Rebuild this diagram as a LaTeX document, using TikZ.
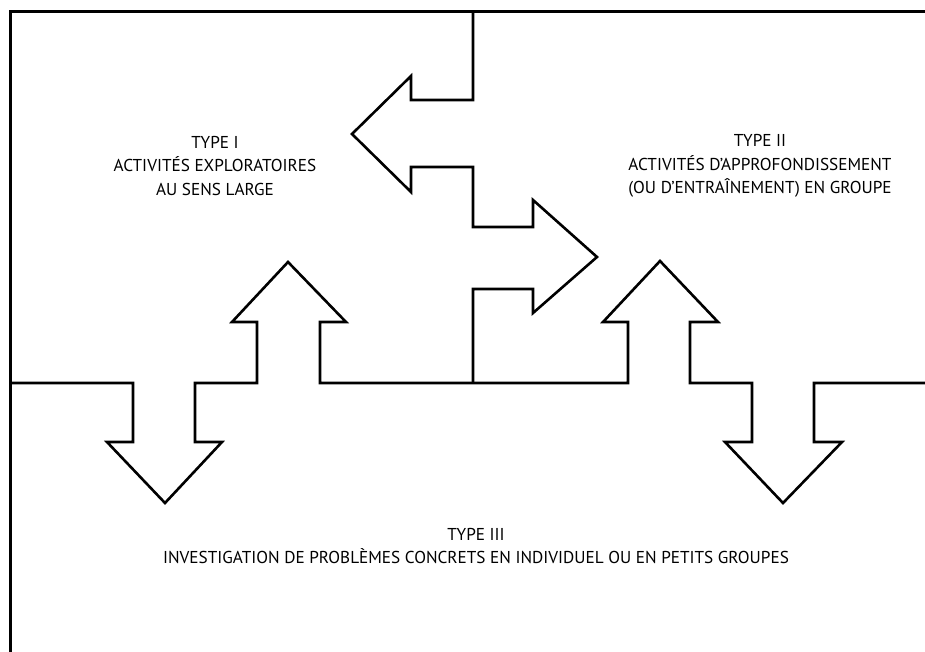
\documentclass[tikz,border=0pt]{standalone}
\usepackage{fontspec}
\setmainfont{PT Sans}
\begin{document}
\begin{tikzpicture}[x=1pt,y=-1pt,
  frame/.style={line width=3pt,line join=miter,line cap=butt},
  arrowline/.style={line width=2.6pt,line join=miter,miter limit=10,line cap=butt},
  label/.style={align=center,inner sep=0pt,font=\fontsize{17.2}{23.5}\selectfont}]
\useasboundingbox (0,0) rectangle (925,652);
% outer frame (top and left)
\draw[frame] (925,12) -- (10,12) -- (10,652);
% vertical separator with left- and right-pointing arrows
\draw[arrowline] (473,12) -- (473,100) -- (411,100) -- (411,76) -- (352,134)
  -- (411,192) -- (411,167) -- (473,167) -- (473,227) -- (533,227) -- (533,200)
  -- (597,257) -- (533,313) -- (533,289) -- (473,289) -- (473,383);
% horizontal separator with up/down arrows
\draw[arrowline] (10,383) -- (133,383) -- (133,442) -- (107,442) -- (165,503)
  -- (222,442) -- (195,442) -- (195,383) -- (257,383) -- (257,322) -- (232,322)
  -- (288,262) -- (346,322) -- (320,322) -- (320,383) -- (628,383) -- (628,322)
  -- (603,322) -- (660,261) -- (718,322) -- (690,322) -- (690,383) -- (752,383)
  -- (752,442) -- (725,442) -- (783,503) -- (842,442) -- (814,442) -- (814,383)
  -- (925,383);
% labels
\node[label] (t1) at (215,166) {TYPE I\\ACTIVITÉS EXPLORATOIRES\\AU SENS LARGE};
\node[label] (t2) at (760,166) {TYPE II\\ACTIVITÉS D'APPROFONDISSEMENT\\(OU D'ENTRAÎNEMENT) EN GROUPE};
\node[label] (t3) at (476,546) {TYPE III\\INVESTIGATION DE PROBLÈMES CONCRETS EN INDIVIDUEL OU EN PETITS GROUPES};
\end{tikzpicture}
\end{document}
